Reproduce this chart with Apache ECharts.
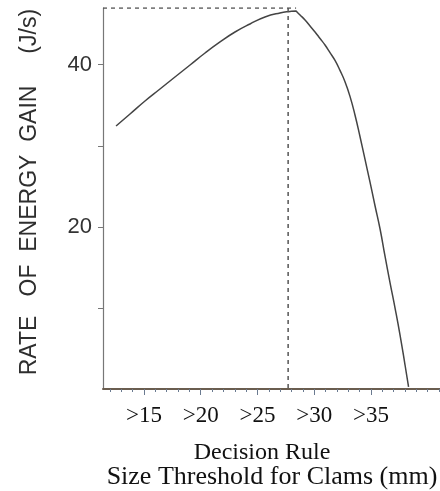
<!DOCTYPE html>
<html>
<head>
<meta charset="utf-8">
<script src="https://cdn.jsdelivr.net/npm/echarts@6/dist/echarts.min.js"></script>
<style>
html,body{margin:0;padding:0;background:#fff;}
#chart{width:440px;height:491px;}
</style>
</head>
<body>
<div id="chart"></div>
<script>
// Curve: size threshold (mm) vs rate of energy gain (J/s)
var curveX = [12.54, 13.77, 15.09, 16.41, 17.73, 19.06, 20.38, 21.70, 23.02, 24.34, 25.66, 26.98, 27.86, 28.39,
              28.48, 28.75, 29.19, 29.63, 30.07, 30.51, 30.95, 31.39, 31.83, 32.27, 32.71, 33.15, 33.59, 34.03,
              34.47, 34.91, 35.35, 35.80, 36.24, 36.68, 37.12, 37.56, 38.00, 38.31];
var curveY = [32.44, 33.93, 35.53, 37.01, 38.49, 39.97, 41.45, 42.81, 44.04, 45.03, 45.89, 46.39, 46.57, 46.63,
              46.51, 46.14, 45.52, 44.78, 44.04, 43.24, 42.44, 41.49, 40.53, 39.30, 37.90, 36.10, 33.80, 31.15,
              28.35, 25.54, 22.64, 19.74, 16.35, 13.10, 9.99, 6.66, 2.96, 0.25];
// Optimum marker (dashed guides)
var optimumX = 27.7;
var optimumY = 47;
var guideStartX = 11.39;
var guideEndX = 28.4;
// Axis ranges and ticks
var xMin = 11.39, xMax = 41.08;
var yMin = 0, yMax = 47;
var xLabelValues = [15, 20, 25, 30, 35];
var xMinorTicks = [12,13,14,16,17,18,19,21,22,23,24,26,27,28,29,31,32,33,34,36,37,38,39,40,41];
var yTickValues = [10, 20, 30, 40];
var yLabelValues = [20, 40];
var yTitle = '  RATE   OF  ENERGY  GAIN     (J/s)';
var xTitle1 = 'Decision Rule';
var xTitle2 = 'Size Threshold for Clams (mm)';

var curveData = curveX.map(function (x, i) { return [x, curveY[i]]; });

var chart = echarts.init(document.getElementById('chart'));
chart.setOption({
  animation: false,
  backgroundColor: '#ffffff',
  grid: { left: 103, right: 0, top: 8, bottom: 102 },
  xAxis: [{
    type: 'value', min: xMin, max: xMax, position: 'bottom',
    splitLine: { show: false },
    axisLine: { show: true, lineStyle: { color: '#6a5d4f', width: 2 } },
    axisTick: { show: true, customValues: xMinorTicks, length: 3, lineStyle: { color: '#6a7a90', width: 1 } },
    axisLabel: {
      show: true, customValues: xLabelValues, margin: 15,
      formatter: function (v) { return '>' + v; },
      fontFamily: "'Liberation Serif', 'Times New Roman', serif", fontSize: 23, color: '#111'
    }
  }, {
    type: 'value', min: xMin, max: xMax, position: 'bottom',
    splitLine: { show: false },
    axisLine: { show: false },
    axisTick: { show: true, customValues: xLabelValues, length: 6, lineStyle: { color: '#6a7a90', width: 1 } },
    axisLabel: { show: false }
  }],
  yAxis: {
    type: 'value', min: yMin, max: yMax,
    splitLine: { show: false },
    axisLine: { show: true, lineStyle: { color: '#777', width: 1.2 } },
    axisTick: { show: true, customValues: yTickValues, length: 5, lineStyle: { color: '#777', width: 1 } },
    axisLabel: {
      show: true, customValues: yLabelValues, margin: 11,
      fontFamily: "'Liberation Sans', Arial, sans-serif", fontSize: 22, color: '#333'
    },
    name: yTitle, nameLocation: 'middle', nameRotate: 90, nameGap: 62,
    nameTextStyle: { fontFamily: "'Liberation Sans', Arial, sans-serif", fontSize: 23, color: '#2e2e2e' }
  },
  series: [{
    type: 'line', data: curveData, smooth: 0.5, symbol: 'none',
    lineStyle: { color: '#444', width: 1.5 }
  }, {
    type: 'line', data: [[guideStartX, optimumY], [guideEndX, optimumY]], symbol: 'none',
    lineStyle: { color: '#555', width: 1.5, type: [4, 4] }
  }, {
    type: 'line', data: [[optimumX, optimumY], [optimumX, yMin]], symbol: 'none',
    lineStyle: { color: '#555', width: 1.5, type: [4, 4] }
  }],
  graphic: [{
    type: 'text', x: 262, y: 453,
    style: { text: xTitle1, align: 'center', verticalAlign: 'middle', fontFamily: "'Liberation Serif', 'Times New Roman', serif", fontSize: 24, fill: '#111' }
  }, {
    type: 'text', x: 272, y: 477,
    style: { text: xTitle2, align: 'center', verticalAlign: 'middle', fontFamily: "'Liberation Serif', 'Times New Roman', serif", fontSize: 26, fill: '#111' }
  }]
});
</script>
</body>
</html>
